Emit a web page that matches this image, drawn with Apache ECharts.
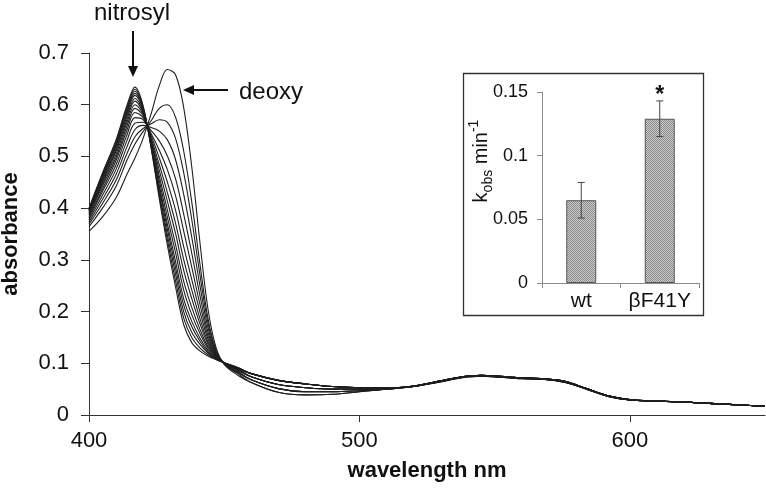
<!DOCTYPE html>
<html><head><meta charset="utf-8">
<script src="https://cdn.jsdelivr.net/npm/echarts@6/dist/echarts.min.js"></script>
<style>html,body{margin:0;padding:0;background:#fff}#c{width:766px;height:489px}</style>
</head><body><div id="c"></div>
<script>
// ---- data: Soret region (nm) ----
const soretNm = [400,405,410,414,417,420,423,426,429,432,435,438,441,444,447,450,455];
// ---- data: visible / Q-band region (nm) ----
const tailNm = [460,470,480,490,500,510,520,530,538,545,552,560,568,576,584,592,600,610,620,635,650];

// successive spectra, deoxy (first) -> nitrosyl (last), Soret part
const spectrum01 = [0.355,0.383,0.420,0.465,0.497,0.535,0.583,0.637,0.668,0.658,0.595,0.480,0.335,0.205,0.130,0.098,0.077];
const spectrum02 = [0.364,0.400,0.442,0.492,0.524,0.548,0.569,0.593,0.600,0.576,0.511,0.412,0.293,0.187,0.125,0.099,0.080];
const spectrum03 = [0.369,0.409,0.454,0.505,0.538,0.554,0.563,0.571,0.566,0.535,0.469,0.378,0.272,0.178,0.123,0.099,0.082];
const spectrum04 = [0.373,0.417,0.465,0.518,0.552,0.560,0.556,0.549,0.532,0.494,0.427,0.344,0.251,0.169,0.121,0.099,0.083];
const spectrum05 = [0.377,0.425,0.475,0.530,0.564,0.566,0.550,0.530,0.501,0.457,0.389,0.313,0.232,0.160,0.119,0.100,0.084];
const spectrum06 = [0.381,0.432,0.484,0.541,0.575,0.571,0.544,0.512,0.474,0.424,0.356,0.286,0.215,0.153,0.117,0.100,0.086];
const spectrum07 = [0.384,0.437,0.492,0.550,0.585,0.575,0.540,0.497,0.450,0.396,0.326,0.262,0.200,0.147,0.115,0.100,0.087];
const spectrum08 = [0.387,0.443,0.498,0.558,0.593,0.579,0.535,0.484,0.430,0.371,0.301,0.242,0.187,0.141,0.114,0.100,0.088];
const spectrum09 = [0.389,0.447,0.504,0.565,0.600,0.582,0.532,0.473,0.413,0.351,0.280,0.225,0.177,0.137,0.113,0.100,0.088];
const spectrum10 = [0.391,0.451,0.510,0.571,0.607,0.585,0.529,0.462,0.396,0.330,0.259,0.208,0.166,0.132,0.112,0.100,0.089];
const spectrum11 = [0.393,0.454,0.514,0.577,0.612,0.588,0.526,0.453,0.382,0.314,0.242,0.194,0.158,0.129,0.111,0.101,0.090];
const spectrum12 = [0.395,0.458,0.519,0.582,0.618,0.590,0.523,0.444,0.369,0.297,0.225,0.181,0.149,0.125,0.110,0.101,0.090];
const spectrum13 = [0.396,0.460,0.522,0.586,0.622,0.592,0.521,0.438,0.359,0.285,0.213,0.171,0.143,0.122,0.109,0.101,0.091];
const spectrum14 = [0.397,0.463,0.525,0.590,0.626,0.594,0.519,0.431,0.348,0.273,0.200,0.160,0.137,0.120,0.108,0.101,0.091];
const spectrum15 = [0.399,0.466,0.529,0.594,0.630,0.596,0.517,0.425,0.338,0.260,0.188,0.150,0.130,0.117,0.108,0.101,0.092];
const spectrum16 = [0.400,0.468,0.532,0.598,0.634,0.598,0.515,0.418,0.328,0.248,0.175,0.140,0.124,0.114,0.107,0.101,0.092];
const spectra = [spectrum01,spectrum02,spectrum03,spectrum04,spectrum05,spectrum06,spectrum07,spectrum08,
                 spectrum09,spectrum10,spectrum11,spectrum12,spectrum13,spectrum14,spectrum15,spectrum16];

// visible-region parts
const tailDeoxy    = [0.063,0.044,0.039,0.040,0.045,0.050,0.055,0.064,0.072,0.075,0.073,0.070,0.069,0.063,0.050,0.036,0.029,0.027,0.025,0.021,0.017];
const tailMixA     = [0.068,0.051,0.045,0.045,0.047,0.050,0.055,0.065,0.073,0.076,0.074,0.071,0.069,0.064,0.050,0.036,0.029,0.027,0.025,0.021,0.017];
const tailMixB     = [0.074,0.059,0.053,0.050,0.050,0.051,0.055,0.065,0.073,0.076,0.074,0.071,0.070,0.064,0.051,0.037,0.029,0.027,0.025,0.021,0.017];
const tailNitrosyl = [0.080,0.067,0.060,0.055,0.053,0.052,0.056,0.066,0.074,0.077,0.075,0.072,0.070,0.065,0.051,0.037,0.030,0.027,0.025,0.021,0.017];
const tails = [tailDeoxy, tailMixA, tailMixB, tailNitrosyl];
const tailOfSpectrum = [0,0,1,1,1,2,2,2,2,3,3,3,3,3,3,3];

const xTicks = [400,500,600];

// ---- inset data ----
const mutants = ['wt','βF41Y'];
const kobs = [0.065, 0.129];
const kobsErr = [0.014, 0.014];
const signif = ['', '*'];

const FONT = '"Liberation Sans", Arial, sans-serif';
const INK = '#111';

// hatched fill for inset bars
const pat = document.createElement('canvas');
pat.width = 2; pat.height = 2;
const pc = pat.getContext('2d');
pc.fillStyle = '#cfcfcf'; pc.fillRect(0,0,2,2);
pc.fillStyle = '#868686'; pc.fillRect(0,0,1,1); pc.fillRect(1,1,1,1);

const chart = echarts.init(document.getElementById('c'), null, {renderer:'canvas'});

const lineSeries = spectra.map((s, i) => ({
  type: 'line', xAxisIndex: 0, yAxisIndex: 0,
  symbol: 'none', showSymbol: false, smooth: 0.35, silent: true,
  lineStyle: {color: '#1e1e1e', width: 1.1},
  data: soretNm.map((x, j) => [x, s[j]]).concat(tailNm.map((x, j) => [x, tails[tailOfSpectrum[i]][j]]))
}));

const option = {
  animation: false,
  backgroundColor: '#fff',
  grid: [
    {left: 89, top: 53, right: 1, bottom: 74, outerBoundsMode: 'none'},
    {left: 542, top: 92, width: 157, height: 191, outerBoundsMode: 'none'}
  ],
  xAxis: [
    {type: 'value', gridIndex: 0, min: 400, max: 650, interval: 100,
     splitLine: {show: false},
     axisLine: {lineStyle: {color: '#333', width: 1}},
     axisTick: {show: true, length: 7, lineStyle: {color: '#333'}, customValues: xTicks},
     axisLabel: {fontSize: 22, color: INK, fontFamily: FONT, margin: 15, customValues: xTicks},
     name: 'wavelength nm', nameLocation: 'middle', nameGap: 45,
     nameTextStyle: {fontSize: 22, fontWeight: 'bold', color: INK, fontFamily: FONT}},
    {type: 'category', gridIndex: 1, data: mutants,
     axisLine: {lineStyle: {color: '#8a8a8a'}},
     axisTick: {show: true, length: 5, lineStyle: {color: '#8a8a8a'}},
     axisLabel: {fontSize: 21, color: INK, fontFamily: FONT, margin: 8, interval: 0, hideOverlap: false}}
  ],
  yAxis: [
    {type: 'value', gridIndex: 0, min: 0, max: 0.7, interval: 0.1,
     splitLine: {show: false},
     axisLine: {show: true, lineStyle: {color: '#333', width: 1}},
     axisTick: {show: true, length: 8, lineStyle: {color: '#333'}},
     axisLabel: {fontSize: 22, color: INK, fontFamily: FONT, margin: 20},
     name: 'absorbance', nameLocation: 'middle', nameGap: 67, nameRotate: 90,
     nameTextStyle: {fontSize: 22, fontWeight: 'bold', color: INK, fontFamily: FONT}},
    {type: 'value', gridIndex: 1, min: 0, max: 0.15, interval: 0.05,
     splitLine: {show: false},
     axisLine: {show: true, lineStyle: {color: '#8a8a8a'}},
     axisTick: {show: true, length: 5, lineStyle: {color: '#8a8a8a'}},
     axisLabel: {fontSize: 18, color: INK, fontFamily: FONT, margin: 14}}
  ],
  series: lineSeries.concat([
    {type: 'bar', xAxisIndex: 1, yAxisIndex: 1, barWidth: 30, silent: true,
     itemStyle: {color: {image: pat, repeat: 'repeat'}, borderColor: '#555', borderWidth: 1},
     data: kobs},
    {type: 'custom', xAxisIndex: 1, yAxisIndex: 1, z: 10, silent: true,
     data: kobs.map((v, i) => [i, v, kobsErr[i]]),
     renderItem: function (params, api) {
       const i = api.value(0), v = api.value(1), e = api.value(2);
       const top = api.coord([i, v + e]);
       const bot = api.coord([i, v - e]);
       const cap = 3.5;
       const st = {stroke: '#444', lineWidth: 1};
       const children = [
         {type: 'line', shape: {x1: top[0], y1: top[1], x2: bot[0], y2: bot[1]}, style: st},
         {type: 'line', shape: {x1: top[0] - cap, y1: top[1], x2: top[0] + cap, y2: top[1]}, style: st},
         {type: 'line', shape: {x1: bot[0] - cap, y1: bot[1], x2: bot[0] + cap, y2: bot[1]}, style: st}
       ];
       const mark = signif[params.dataIndex];
       if (mark) {
         children.push({type: 'text', x: top[0], y: top[1] - 5,
           style: {text: mark, font: 'bold 23px ' + FONT, fill: INK, align: 'center', verticalAlign: 'middle'}});
       }
       return {type: 'group', children: children};
     }}
  ]),
  graphic: [
    {type: 'rect', silent: true, shape: {x: 463.5, y: 73.5, width: 240, height: 242},
     style: {fill: 'none', stroke: '#333', lineWidth: 1.3}},
    {type: 'text', silent: true, x: 132, y: 13,
     style: {text: 'nitrosyl', font: '24px ' + FONT, fill: INK, align: 'center', verticalAlign: 'middle'}},
    {type: 'line', silent: true, shape: {x1: 133, y1: 31, x2: 133, y2: 68}, style: {stroke: INK, lineWidth: 2}},
    {type: 'polygon', silent: true, shape: {points: [[128, 66], [138, 66], [133, 77]]}, style: {fill: INK}},
    {type: 'text', silent: true, x: 271, y: 92,
     style: {text: 'deoxy', font: '24px ' + FONT, fill: INK, align: 'center', verticalAlign: 'middle'}},
    {type: 'line', silent: true, shape: {x1: 228, y1: 90, x2: 192, y2: 90}, style: {stroke: INK, lineWidth: 2}},
    {type: 'polygon', silent: true, shape: {points: [[183, 90], [194, 85], [194, 95]]}, style: {fill: INK}},
    {type: 'text', silent: true, x: 481, y: 161, rotation: Math.PI / 2,
     style: {
       text: '{a|k}{b|obs}{a| min}{c|-1}',
       align: 'center', verticalAlign: 'middle',
       rich: {
         a: {fontSize: 20, fontFamily: FONT, fill: INK, lineHeight: 28},
         b: {fontSize: 14, fontFamily: FONT, fill: INK, lineHeight: 12, verticalAlign: 'bottom'},
         c: {fontSize: 14, fontFamily: FONT, fill: INK, lineHeight: 12, verticalAlign: 'top'}
       }
     }}
  ]
};
chart.setOption(option);
</script>
</body></html>
